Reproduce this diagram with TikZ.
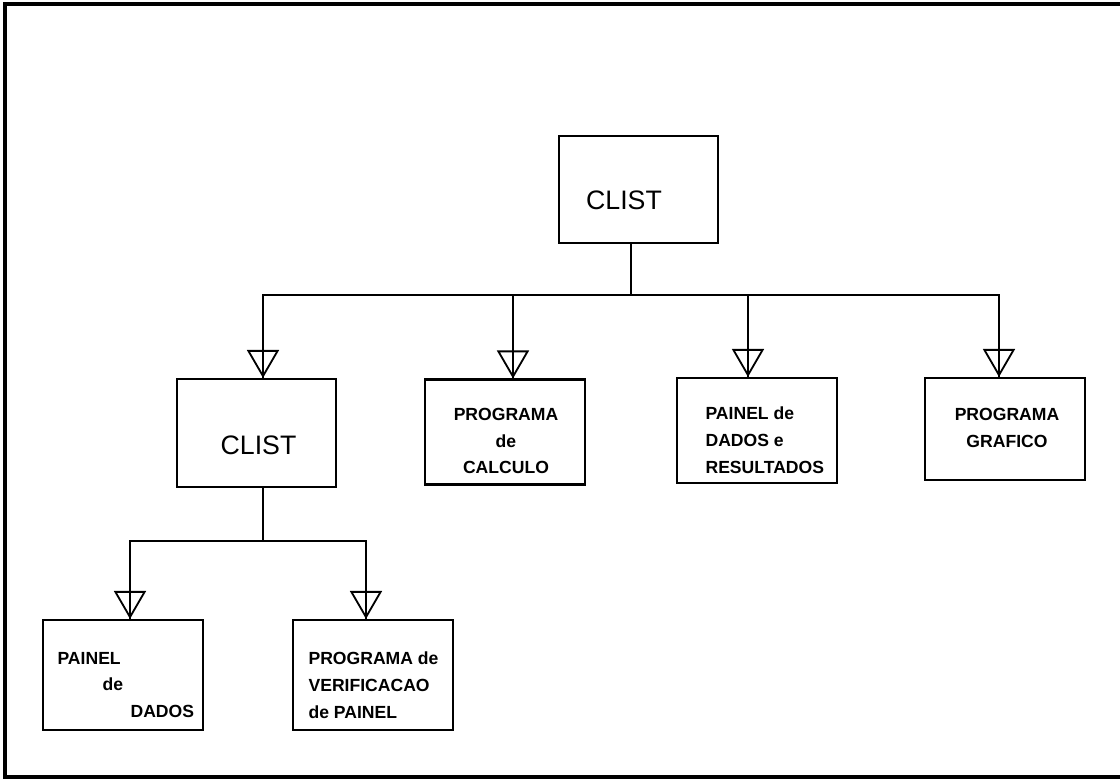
\documentclass[tikz,border=0pt]{standalone}
\usepackage{fontspec}
\setmainfont{Liberation Sans}
\usepackage{tikz}
\usetikzlibrary{arrows.meta,positioning}

\begin{document}
\begin{tikzpicture}[x=0.025cm,y=-0.025cm,thick,
   caixa/.style={draw,line width=1.5pt,minimum width=4cm,minimum height=2.625cm,inner sep=0pt},
   nome/.style={font=\fontsize{19}{23}\selectfont,inner sep=0pt},
   texto/.style={font=\bfseries\fontsize{12.5}{19}\selectfont,inner sep=0pt},
   ligacao/.style={line width=1.3pt},
   seta/.style={-{Triangle[open,length=0.7cm,width=0.8cm,line width=1.3pt]}}]

  \useasboundingbox (0,0) rectangle (1120,779);
  \draw[line width=2.4pt] (1130,4) -- (5,4) -- (5,777) -- (1130,777);

  \node[caixa,minimum width=3.975cm,minimum height=2.675cm] (clistA) at (638.5,189.5) {};
  \node[caixa,minimum width=3.975cm,minimum height=2.7cm] (clistB) at (256.5,433) {};
  \node[caixa] (calculo) at (505,432) {};
  \node[caixa] (painel) at (757,430.5) {};
  \node[caixa,minimum height=2.55cm] (grafico) at (1005,429) {};
  \node[caixa,minimum height=2.75cm] (dados) at (123,675) {};
  \node[caixa,minimum height=2.75cm] (verif) at (373,675) {};

  \node[nome] (tclistA) at (624,200) {CLIST};
  \node[nome] (tclistB) at (258.5,445) {CLIST};
  \node[texto,align=center] (tcalculo) at (506,441) {PROGRAMA\\de\\CALCULO};
  \node[texto,align=left,anchor=west] (tpainel) at (705,440) {PAINEL de\\DADOS e\\RESULTADOS};
  \node[texto,align=center] (tgrafico) at (1007,428) {PROGRAMA\\GRAFICO};
  \node[texto,align=left,anchor=west] (tdados) at (57,685) {PAINEL\\\hspace*{1.125cm}de\\\hspace*{1.825cm}DADOS};
  \node[texto,align=left,anchor=west] (tverif) at (308,685) {PROGRAMA de\\VERIFICACAO\\de PAINEL};

  \coordinate (busA) at (631,295);
  \coordinate (busB) at (263,541);

  \foreach \from/\bus/\to/\dx in {clistA/busA/clistB/6.5,clistA/busA/calculo/8,clistA/busA/painel/-9,
      clistA/busA/grafico/-6,clistB/busB/dados/7,clistB/busB/verif/-7} {
    \draw[ligacao,seta] (\from.south -| \bus) -- (\bus) -| ([xshift=\dx*0.025cm]\to.north);
    \draw[ligacao] (\from.south -| \bus) -- (\bus) -| ([xshift=\dx*0.025cm]\to.north);
  }
\end{tikzpicture}
\end{document}
